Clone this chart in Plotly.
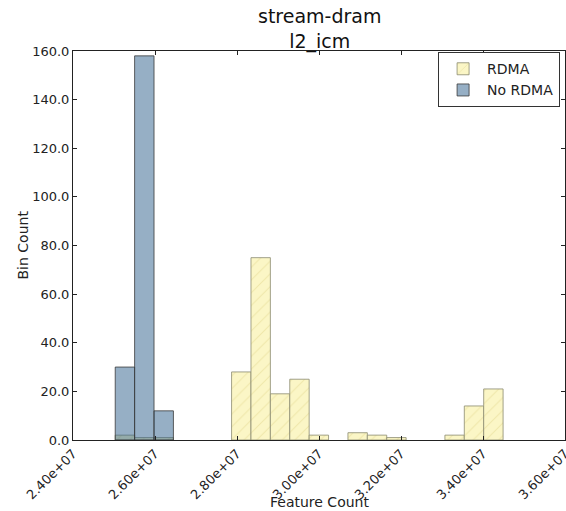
import numpy as np
import plotly.graph_objects as go

# Histogram data (shared bins)
x_min = 2.503e7
x_max = 3.449e7
n_bins = 20
rdma_counts = [2, 1, 1, 0, 0, 0, 28, 75, 19, 25, 2, 0, 3, 2, 1, 0, 0, 2, 14, 21]
no_rdma_counts = [30, 158, 12, 0, 0, 0, 0, 0, 0, 0, 0, 0, 0, 0, 0, 0, 0, 0, 0, 0]

x_tick_vals = [2.4e7, 2.6e7, 2.8e7, 3.0e7, 3.2e7, 3.4e7, 3.6e7]
x_tick_text = ["2.40e+07", "2.60e+07", "2.80e+07", "3.00e+07", "3.20e+07", "3.40e+07", "3.60e+07"]
y_tick_vals = [0, 20, 40, 60, 80, 100, 120, 140, 160]

edges = np.linspace(x_min, x_max, n_bins + 1)
centers = (edges[:-1] + edges[1:]) / 2
width = edges[1] - edges[0]

def nz(vals):
    return [v if v > 0 else None for v in vals]

font_family = "DejaVu Sans"

fig = go.Figure()
fig.add_trace(go.Bar(
    name="RDMA",
    x=centers, y=nz(rdma_counts), width=width,
    marker=dict(
        color="#fbf6c6",
        line=dict(color="#8a8a70", width=0.8),
        pattern=dict(shape="/", fgcolor="#e2d98f", bgcolor="#fbf6c6", size=9, solidity=0.12),
    ),
))
fig.add_trace(go.Bar(
    name="No RDMA",
    x=centers, y=nz(no_rdma_counts), width=width,
    marker=dict(color="rgba(45,95,140,0.5)", line=dict(color="#3a3a3a", width=0.8)),
))

fig.update_layout(
    width=566, height=511,
    barmode="overlay",
    paper_bgcolor="white", plot_bgcolor="white",
    font=dict(family=font_family, size=13, color="#222"),
    margin=dict(l=73, r=1, t=51, b=71, autoexpand=False),
    showlegend=True,
    legend=dict(x=0.99, xanchor="right", y=0.997, yanchor="top",
                bordercolor="#333", borderwidth=1, bgcolor="white",
                font=dict(size=14), traceorder="normal",
                entrywidth=80, itemwidth=38),
    annotations=[
        dict(text="stream-dram<br>l2_icm", xref="paper", yref="paper", x=0.5, y=1,
             xanchor="center", yanchor="bottom", yshift=-4, showarrow=False,
             font=dict(size=19, color="#111")),
        dict(text="Feature Count", xref="paper", yref="paper", x=0.5, y=0,
             xanchor="center", yanchor="middle", yshift=-62, showarrow=False,
             font=dict(size=14, color="#222")),
        dict(text="Bin Count", xref="paper", yref="paper", x=0, y=0.5,
             xanchor="center", yanchor="middle", xshift=-51, textangle=-90, showarrow=False,
             font=dict(size=14, color="#222")),
    ],
)
fig.update_xaxes(
    range=[2.4e7, 3.6e7], tickvals=x_tick_vals, ticktext=x_tick_text, tickangle=-45,
    showline=True, linecolor="#222", linewidth=1, mirror="ticks",
    ticks="inside", ticklen=4, tickcolor="#222", showgrid=False, zeroline=False,
    automargin=False, ticklabeloverflow="allow",
)
fig.update_yaxes(
    range=[0, 160], tickvals=y_tick_vals, tickformat=".1f",
    showline=True, linecolor="#222", linewidth=1, mirror="ticks",
    ticks="inside", ticklen=4, tickcolor="#222", showgrid=False, zeroline=False,
    automargin=False,
)

fig.write_html("out.html", config={"displayModeBar": False},
               post_script="document.body.style.margin='0';document.body.style.overflow='hidden';")
